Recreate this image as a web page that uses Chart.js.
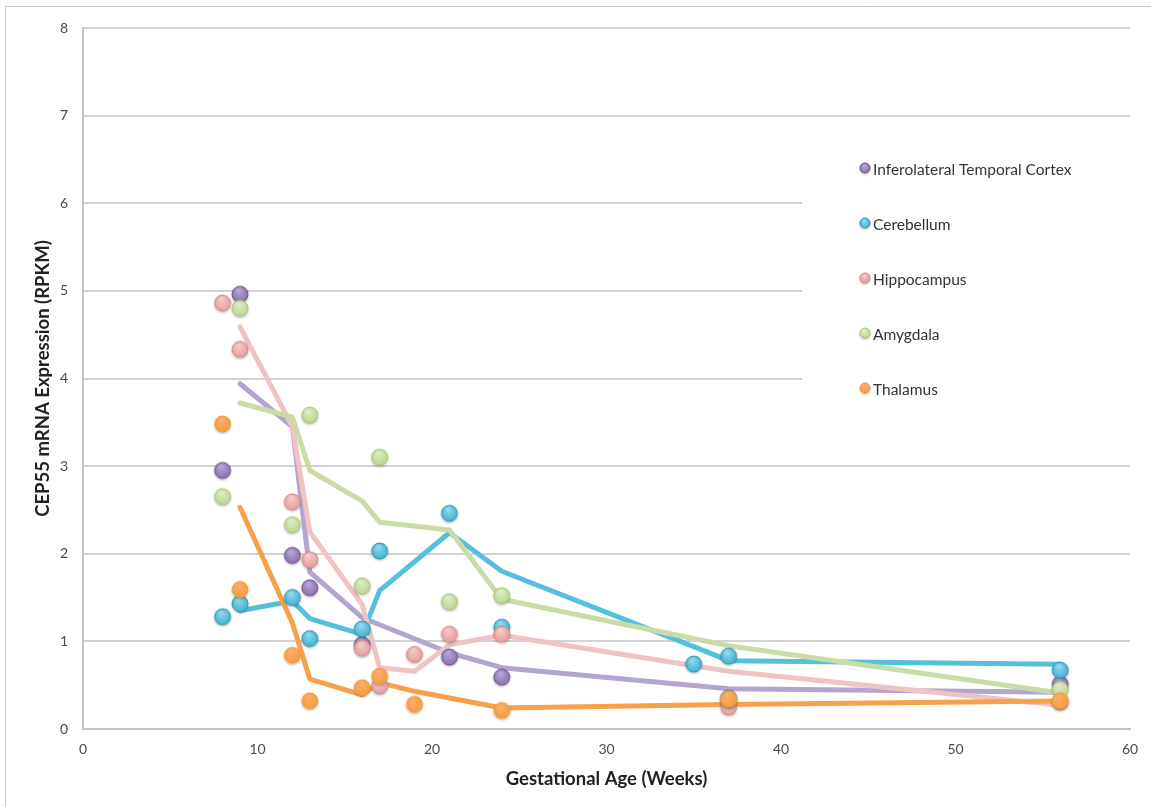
<!DOCTYPE html>
<html>
<head>
<meta charset="utf-8">
<script src="https://cdn.jsdelivr.net/npm/chart.js@4.4.1/dist/chart.umd.min.js"></script>
<style>
  html, body { margin: 0; padding: 0; background: #fff; }
  #wrap { position: relative; width: 1151px; height: 807px; }
</style>
</head>
<body>
<div id="wrap"><canvas id="chart" width="1151" height="807"></canvas></div>
<script>
// series names (legend order)
const regions = ['Inferolateral Temporal Cortex', 'Cerebellum', 'Hippocampus', 'Amygdala', 'Thalamus'];

// sample points: gestational age (weeks) and expression (RPKM)
const itcWeeks = [8, 9, 12, 13, 16, 21, 24, 37, 56];
const itcValues = [2.94, 4.95, 1.97, 1.60, 0.95, 0.81, 0.58, 0.34, 0.50];
const cbWeeks = [8, 9, 12, 13, 16, 17, 21, 24, 35, 37, 56];
const cbValues = [1.27, 1.42, 1.49, 1.02, 1.13, 2.02, 2.45, 1.15, 0.73, 0.82, 0.66];
const hipWeeks = [8, 9, 12, 13, 16, 17, 19, 21, 24, 37, 56];
const hipValues = [4.85, 4.32, 2.58, 1.92, 0.91, 0.48, 0.84, 1.07, 1.07, 0.24, 0.30];
const amyWeeks = [8, 9, 12, 13, 16, 17, 21, 24, 37, 56];
const amyValues = [2.64, 4.79, 2.32, 3.57, 1.62, 3.09, 1.44, 1.51, 0.33, 0.44];
const thaWeeks = [8, 9, 12, 13, 16, 17, 19, 24, 37, 56];
const thaValues = [3.47, 1.58, 0.83, 0.31, 0.46, 0.59, 0.27, 0.20, 0.33, 0.31];

// trend lines
const itcTrendWeeks = [9, 12, 13, 16, 21, 24, 37, 56];
const itcTrend = [3.94, 3.45, 1.79, 1.27, 0.87, 0.70, 0.46, 0.42];
const cbTrendWeeks = [9, 12, 13, 16, 17, 21, 24, 35, 37, 56];
const cbTrend = [1.35, 1.46, 1.26, 1.08, 1.58, 2.24, 1.80, 0.94, 0.78, 0.74];
const hipTrendWeeks = [9, 12, 13, 16, 17, 19, 21, 24, 37, 56];
const hipTrend = [4.59, 3.45, 2.25, 1.42, 0.70, 0.66, 0.96, 1.07, 0.66, 0.27];
const amyTrendWeeks = [9, 12, 13, 16, 17, 21, 24, 37, 56];
const amyTrend = [3.72, 3.56, 2.95, 2.60, 2.36, 2.27, 1.48, 0.95, 0.41];
const thaTrendWeeks = [9, 12, 13, 16, 17, 19, 24, 37, 56];
const thaTrend = [2.53, 1.21, 0.57, 0.39, 0.53, 0.43, 0.24, 0.28, 0.32];

const xTicks = [0, 10, 20, 30, 40, 50, 60];
const yTicks = [0, 1, 2, 3, 4, 5, 6, 7, 8];

const FONT = "Lato, 'Open Sans', sans-serif";

// colours: marker fill, highlight, edge, trend line
const styles = [
  { fill: '#8a6eaf', light: '#baa8d6', edge: '#6c5292', line: '#b3a5d0' },
  { fill: '#42b1d1', light: '#93d9ec', edge: '#3294b3', line: '#55c0dc' },
  { fill: '#e69c9c', light: '#f5cccc', edge: '#d38989', line: '#efc3c3' },
  { fill: '#bad78d', light: '#ddeec6', edge: '#a6c27c', line: '#c9dca5' },
  { fill: '#f89b40', light: '#fab06a', edge: '#f59a40', line: '#f9a04b' }
];

function pairs(xs, ys) {
  return xs.map((x, i) => ({ x: x, y: ys[i] }));
}

// little shaded ball used as the point marker
function makeDot(st, r) {
  const c = document.createElement('canvas');
  const s = Math.ceil(r * 2 + 8);
  c.width = s; c.height = s;
  const g = c.getContext('2d');
  const cx = s / 2, cy = s / 2 - 1;
  g.shadowColor = 'rgba(0,0,0,0.28)';
  g.shadowBlur = 3;
  g.shadowOffsetY = 1.5;
  const grad = g.createRadialGradient(cx - r * 0.2, cy - r * 0.55, r * 0.1, cx, cy, r * 1.05);
  grad.addColorStop(0, st.light);
  grad.addColorStop(1, st.fill);
  g.beginPath();
  g.arc(cx, cy, r, 0, Math.PI * 2);
  g.fillStyle = grad;
  g.fill();
  g.shadowColor = 'transparent';
  g.lineWidth = 1;
  g.strokeStyle = st.edge;
  g.stroke();
  return c;
}

const pointSets = [
  pairs(itcWeeks, itcValues), pairs(cbWeeks, cbValues), pairs(hipWeeks, hipValues),
  pairs(amyWeeks, amyValues), pairs(thaWeeks, thaValues)
];
const trendSets = [
  pairs(itcTrendWeeks, itcTrend), pairs(cbTrendWeeks, cbTrend), pairs(hipTrendWeeks, hipTrend),
  pairs(amyTrendWeeks, amyTrend), pairs(thaTrendWeeks, thaTrend)
];

const datasets = [];
regions.forEach((name, i) => {
  datasets.push({
    label: name,
    data: pointSets[i],
    pointStyle: makeDot(styles[i], 8),
    legendDot: makeDot(styles[i], 5),
    showLine: false,
    order: 5 - i
  });
});
regions.forEach((name, i) => {
  datasets.push({
    label: '',
    data: trendSets[i],
    showLine: true,
    borderColor: styles[i].line,
    borderWidth: 5,
    borderJoinStyle: 'round',
    borderCapStyle: 'round',
    pointRadius: 0,
    tension: 0,
    order: 10 - i
  });
});

// white legend panel sitting inside the plot area
const legendBox = {
  id: 'legendBox',
  beforeDatasetsDraw(chart) {
    const { ctx, chartArea } = chart;
    ctx.save();
    ctx.fillStyle = '#fff';
    ctx.fillRect(chartArea.right - 328, 140, 330, 280);
    ctx.restore();
  },
  afterDatasetsDraw(chart) {
    const { ctx, chartArea } = chart;
    const x0 = chartArea.right - 265;
    ctx.save();
    ctx.font = '15.5px ' + FONT;
    ctx.fillStyle = '#333';
    ctx.textBaseline = 'middle';
    chart.data.datasets.filter(d => d.label).forEach((d, i) => {
      const y = 169 + i * 55;
      const dot = d.legendDot;
      ctx.drawImage(dot, x0 - dot.width / 2, y - dot.height / 2);
      ctx.fillText(d.label, x0 + 8, y + 1);
    });
    ctx.restore();
  }
};

const frame = {
  id: 'frame',
  beforeDraw(chart) {
    const { ctx, width, height } = chart;
    ctx.save();
    ctx.fillStyle = '#fff';
    ctx.fillRect(0, 0, width, height);
    ctx.strokeStyle = '#c8c8c8';
    ctx.lineWidth = 1;
    ctx.beginPath();
    ctx.moveTo(5.5, height);
    ctx.lineTo(5.5, 6.5);
    ctx.lineTo(width, 6.5);
    ctx.stroke();
    ctx.restore();
  }
};

new Chart(document.getElementById('chart'), {
  type: 'scatter',
  data: { datasets: datasets },
  options: {
    responsive: false,
    animation: false,
    layout: { padding: { top: 28, right: 21, left: 0, bottom: 0 } },
    plugins: {
      legend: { display: false },
      tooltip: { enabled: false }
    },
    scales: {
      x: {
        type: 'linear',
        min: xTicks[0],
        max: xTicks[xTicks.length - 1],
        afterBuildTicks(s) { s.ticks = xTicks.map(v => ({ value: v })); },
        afterFit(s) { s.height = 78; },
        ticks: { padding: 12, color: '#4a4a4a', font: { family: FONT, size: 14 } },
        grid: { display: false, drawTicks: false },
        border: { color: '#c4c4c4', width: 2 },
        title: {
          display: true,
          text: 'Gestational Age (Weeks)',
          color: '#222',
          font: { family: FONT, size: 18.5, weight: 'bold' },
          padding: { top: 0, bottom: 17 }
        }
      },
      y: {
        min: yTicks[0],
        max: yTicks[yTicks.length - 1],
        afterBuildTicks(s) { s.ticks = yTicks.map(v => ({ value: v })); },
        afterFit(s) { s.width = 83; },
        ticks: { padding: 15, color: '#4a4a4a', font: { family: FONT, size: 14 } },
        grid: { color: '#d2d2d2', lineWidth: 2, drawTicks: false },
        border: { color: '#c4c4c4', width: 2 },
        title: {
          display: true,
          text: 'CEP55 mRNA Expression (RPKM)',
          color: '#222',
          font: { family: FONT, size: 18.5, weight: 'bold' },
          padding: { top: 32, bottom: 0 }
        }
      }
    }
  },
  plugins: [frame, legendBox]
});
</script>
</body>
</html>
